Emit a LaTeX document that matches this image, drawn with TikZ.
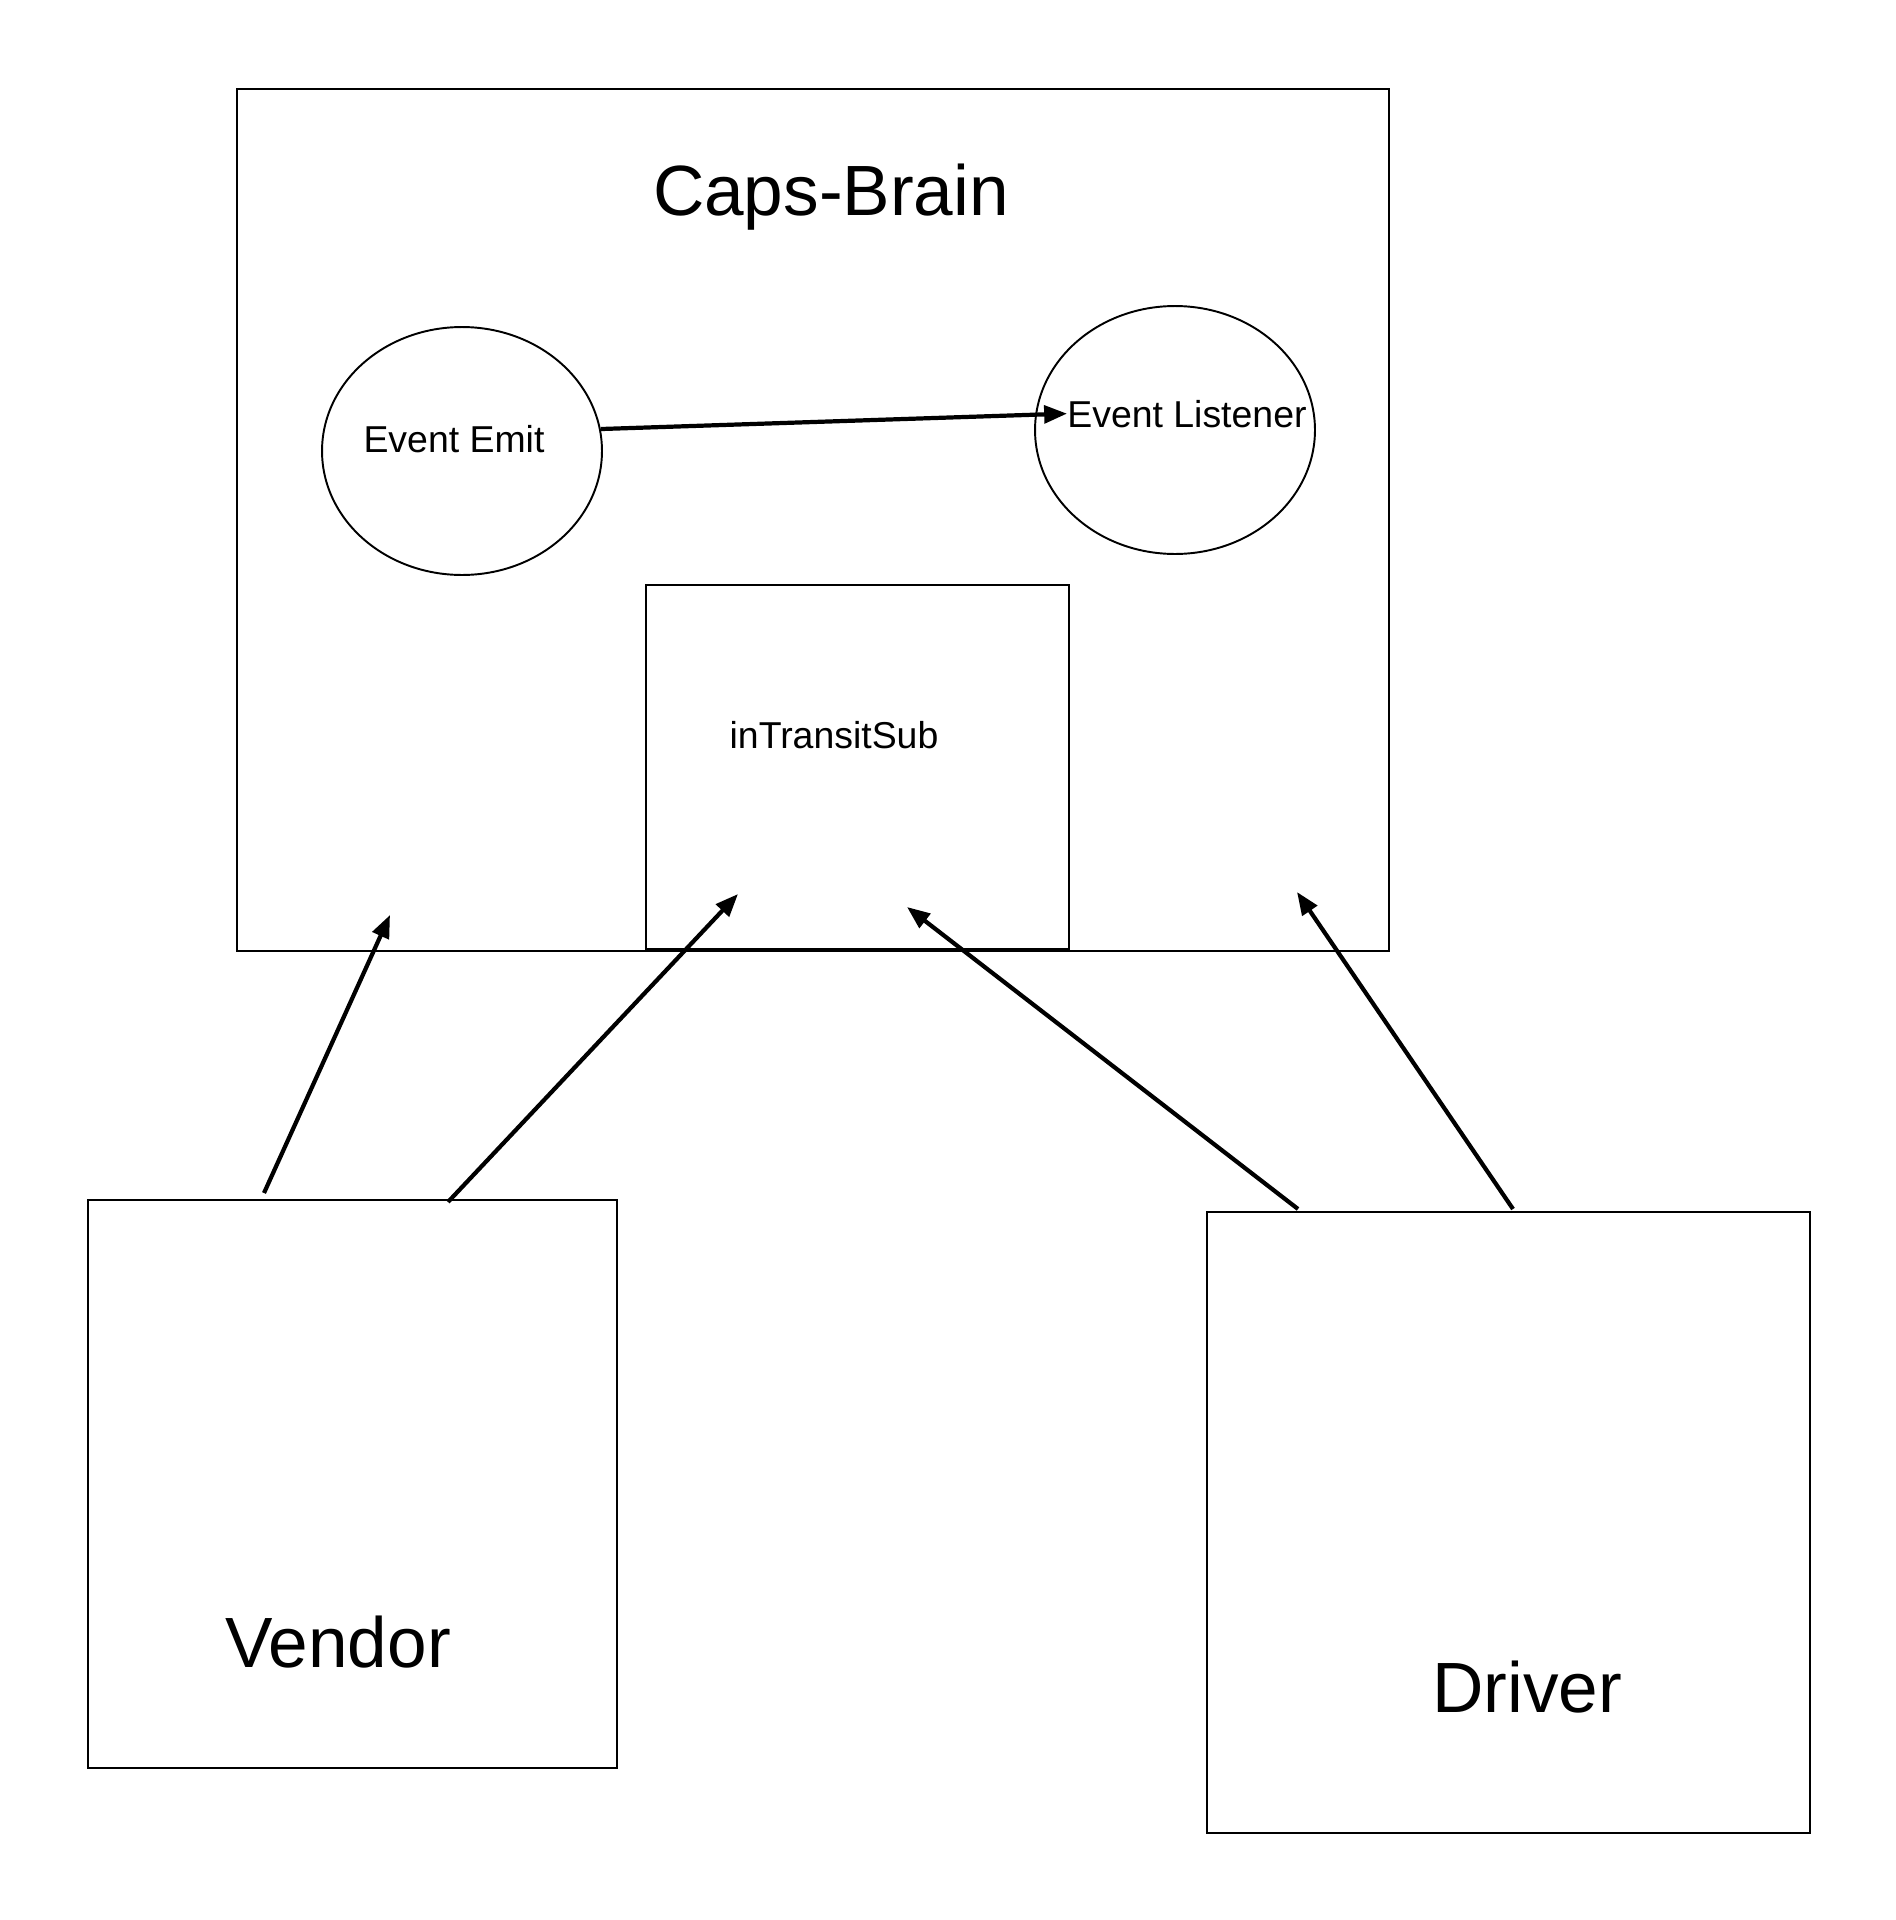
\documentclass[tikz,border=0pt]{standalone}
\usepackage{fontspec}
\setmainfont{Liberation Sans}
\usetikzlibrary{positioning,arrows.meta,shapes}

\begin{document}
\begin{tikzpicture}[x=0.02cm,y=-0.02cm,
   box/.style={draw,line width=1.1pt,inner sep=0pt,anchor=north west},
   bubble/.style={draw,ellipse,line width=1.1pt,inner sep=0pt,
      minimum width=5.6cm,minimum height=4.96cm},
   bigtext/.style={inner sep=0pt,anchor=base,font=\fontsize{40.5}{48}\selectfont},
   smalltext/.style={inner sep=0pt,anchor=base,font=\fontsize{21.3}{25}\selectfont},
   link/.style={-{Triangle[length=13pt,width=10pt]},line width=2.4pt}]
   \useasboundingbox (0,0) rectangle (1896,1920);
   % the brain with its parts
   \node[box,minimum width=23.04cm,minimum height=17.24cm] (brain) at (236,88) {};
   \node[bigtext] (brainlbl) at (831,215) {Caps-Brain};
   \node[bubble] (emit) at (462,451) {};
   \node[bubble] (listener) at (1175,430) {};
   \node[smalltext] (emitlbl) at (454,452) {Event Emit};
   \node[smalltext,anchor=base west] (listenerlbl) at (1067,427) {Event Listener};
   \node[box,minimum width=8.46cm,minimum height=7.28cm] (sub) at (645,584) {};
   \node[smalltext] (sublbl) at (834,748) {inTransitSub};
   % clients
   \node[box,minimum width=10.58cm,minimum height=11.36cm] (vendor) at (87,1199) {};
   \node[bigtext] (vendorlbl) at (338,1667) {Vendor};
   \node[box,minimum width=12.06cm,minimum height=12.42cm] (driver) at (1206,1211) {};
   \node[bigtext] (driverlbl) at (1527,1712) {Driver};
   % free arrow ends
   \coordinate (v1) at (264,1193);
   \coordinate (v2) at (448,1202);
   \coordinate (d1) at (1298,1209);
   \coordinate (d2) at (1513,1209);
   \coordinate (t1) at (390,915);
   \coordinate (t2) at (738,894);
   \coordinate (t3) at (907,907);
   \coordinate (t4) at (1297,892);
   \draw[link] (emit.9) -- (listenerlbl.west);
   \draw[link] (v1) -- (t1);
   \draw[link] (v2) -- (t2);
   \draw[link] (d1) -- (t3);
   \draw[link] (d2) -- (t4);
\end{tikzpicture}
\end{document}
